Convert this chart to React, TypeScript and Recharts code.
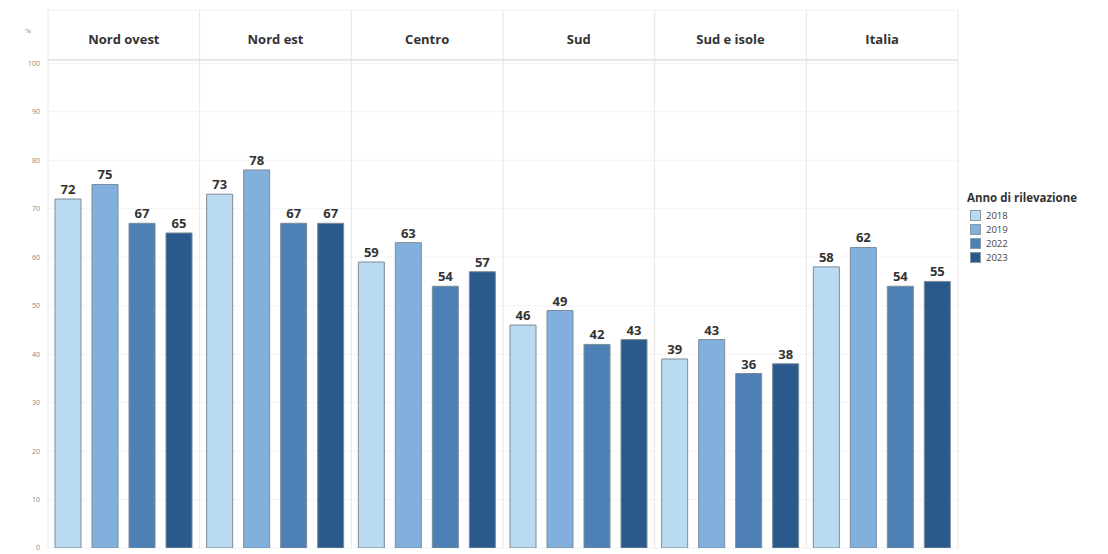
import React from "react";
import {
  BarChart,
  Bar,
  XAxis,
  YAxis,
  CartesianGrid,
  Legend,
  LabelList,
  ReferenceLine,
} from "recharts";

const regions = ["Nord ovest", "Nord est", "Centro", "Sud", "Sud e isole", "Italia"];
const v2018 = [72, 73, 59, 46, 39, 58];
const v2019 = [75, 78, 63, 49, 43, 62];
const v2022 = [67, 67, 54, 42, 36, 54];
const v2023 = [65, 67, 57, 43, 38, 55];
const years = ["2018", "2019", "2022", "2023"];
const colors = ["#b9daf0", "#80b0db", "#4d80b4", "#2a5a8b"];
const yTicks = [0, 10, 20, 30, 40, 50, 60, 70, 80, 90, 100];
const panelEdges = [0, 1, 2, 3, 4, 5, 6];

const data = regions.map((r, i) => ({
  region: r,
  slot: i + 0.5,
  y2018: v2018[i],
  y2019: v2019[i],
  y2022: v2022[i],
  y2023: v2023[i],
}));
const keys = ["y2018", "y2019", "y2022", "y2023"];

const FONT = "'Open Sans', 'DejaVu Sans', sans-serif";

const renderHeaderTick = (props: any) => {
  const { x, payload } = props;
  return (
    <text
      x={x}
      y={44}
      textAnchor="middle"
      fontFamily={FONT}
      fontWeight={700}
      fontSize={13}
      fill="#333"
    >
      {payload.value}
    </text>
  );
};

const LegendContent = (props: any) => {
  const { payload } = props;
  return (
    <div style={{ fontFamily: FONT, color: "#333" }}>
      <div style={{ fontWeight: 700, fontSize: 11.5, marginBottom: 3, whiteSpace: "nowrap" }}>
        Anno di rilevazione
      </div>
      {(payload || []).map((p: any) => (
        <div
          key={p.value}
          style={{ display: "flex", alignItems: "center", height: 14, fontSize: 9.5, color: "#444" }}
        >
          <span
            style={{
              display: "inline-block",
              width: 9,
              height: 9,
              background: p.color,
              border: "1px solid #8a99a8",
              marginLeft: 3,
              marginRight: 5,
            }}
          />
          {p.value}
        </div>
      ))}
    </div>
  );
};

export default function App() {
  return (
    <div style={{ width: 1108, height: 554 }}>
      <style>{`body{margin:0;}`}</style>
      <BarChart
        width={1108}
        height={554}
        data={data}
        margin={{ top: 9, right: 150, bottom: 6, left: 8 }}
        barCategoryGap={7}
        barGap={11}
      >
        <CartesianGrid
          xAxisId="grid"
          stroke="#f3f3f3"
          strokeWidth={1}
          horizontal={true}
          vertical={false}
        />
        <CartesianGrid
          xAxisId="grid"
          stroke="#e6e6e6"
          strokeWidth={1}
          horizontal={false}
          vertical={true}
        />
        <XAxis
          xAxisId="grid"
          dataKey="slot"
          type="number"
          domain={[0, 6]}
          ticks={panelEdges}
          allowDataOverflow
          allowDecimals={false}
          hide
        />
        <XAxis
          dataKey="region"
          orientation="top"
          height={1}
          axisLine={false}
          tickLine={false}
          tick={renderHeaderTick}
          interval={0}
        />
        <YAxis
          domain={[0, 111]}
          ticks={yTicks}
          width={40}
          axisLine={false}
          tickLine={false}
          tickSize={0}
          tickMargin={8}
          tick={{ fontSize: 7, fill: "#888", fontFamily: FONT }}
          label={{ value: "%", position: "insideTop", offset: 18, fontSize: 7, fill: "#777" }}
          allowDataOverflow
        />
        <ReferenceLine y={100.7} stroke="#e0e0e0" strokeWidth={1.5} ifOverflow="extendDomain" />
        {keys.map((k, i) => (
          <Bar
            key={k}
            dataKey={k}
            name={years[i]}
            fill={colors[i]}
            stroke="#7d8b99"
            strokeWidth={1}
            isAnimationActive={false}
          >
            <LabelList
              dataKey={k}
              position="top"
              offset={5}
              fontFamily={FONT}
              fontWeight={700}
              fontSize={13}
              fill="#333"
            />
          </Bar>
        ))}
        <Legend
          layout="vertical"
          align="center"
          verticalAlign="middle"
          content={<LegendContent />}
          wrapperStyle={{ left: 967, top: 190, width: 140 }}
        />
      </BarChart>
    </div>
  );
}
